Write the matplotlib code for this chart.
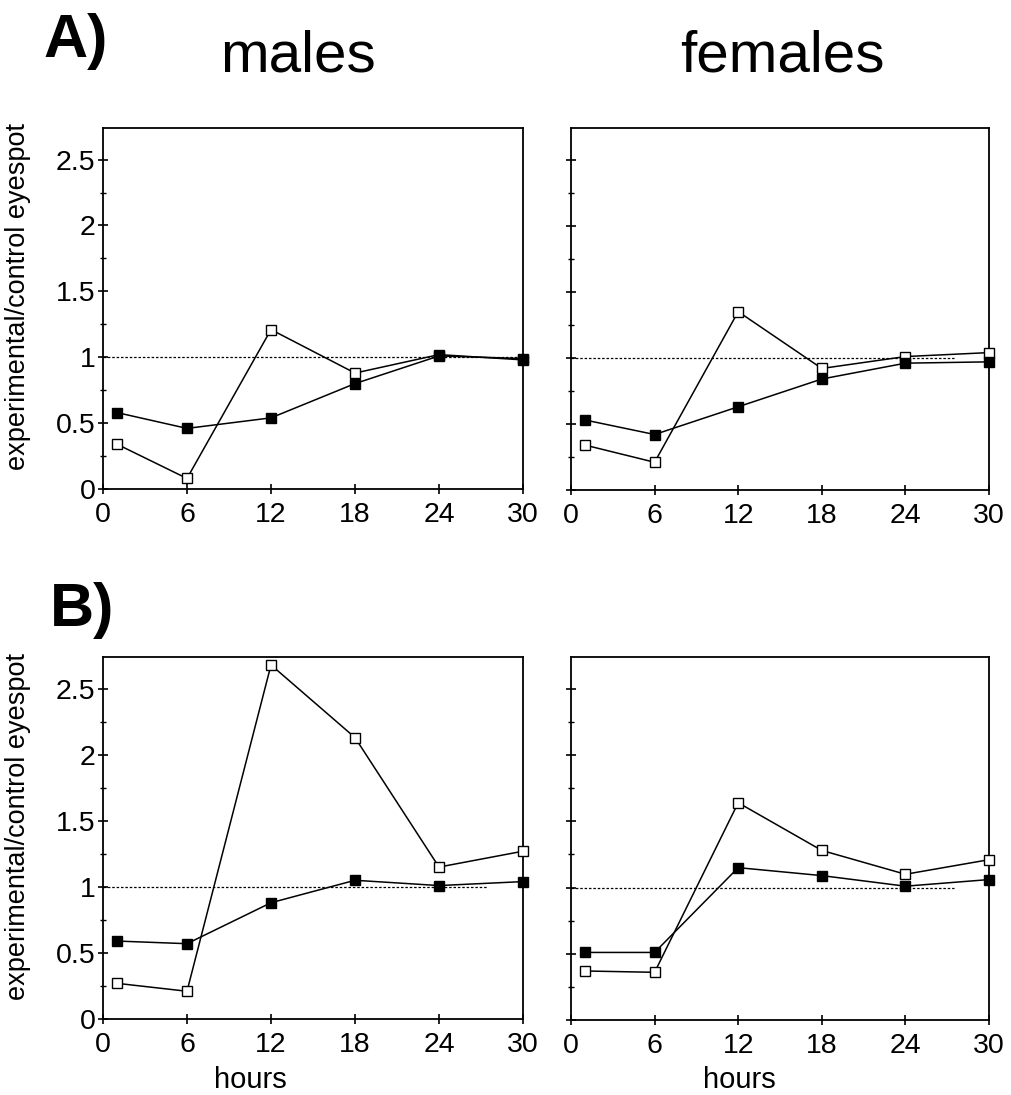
import numpy as np
import matplotlib
matplotlib.use("Agg")
import matplotlib.pyplot as plt
from matplotlib.ticker import MultipleLocator

plt.rcParams['font.family'] = ['Liberation Sans', 'DejaVu Sans']

# heures de mesure
hours = [1, 6, 12, 18, 24, 30]

# A) rapports expérimental/contrôle
a_males_filled = [0.58, 0.46, 0.54, 0.80, 1.01, 0.99]
a_males_open = [0.34, 0.08, 1.21, 0.88, 1.02, 0.98]
a_females_filled = [0.53, 0.42, 0.63, 0.84, 0.96, 0.97]
a_females_open = [0.34, 0.21, 1.35, 0.92, 1.01, 1.04]

# B)
b_males_filled = [0.59, 0.57, 0.88, 1.05, 1.01, 1.04]
b_males_open = [0.27, 0.21, 2.68, 2.13, 1.15, 1.27]
b_females_filled = [0.51, 0.51, 1.15, 1.09, 1.01, 1.06]
b_females_open = [0.37, 0.36, 1.64, 1.28, 1.10, 1.21]

x_ticks = [0, 6, 12, 18, 24, 30]
y_ticks = [0, 0.5, 1, 1.5, 2, 2.5]
y_tick_labels = ['0', '0.5', '1', '1.5', '2', '2.5']

W, H = 1012, 1095
fig = plt.figure(figsize=(W / 100, H / 100), dpi=100)


def px_axes(x0, x1, y0, y1):
    return fig.add_axes([x0 / W, 1 - y1 / H, (x1 - x0) / W, (y1 - y0) / H])


def draw_panel(ax, filled, opn, ref_end, show_labels):
    ax.plot([0, ref_end], [1, 1], color='black', lw=0.9, dashes=(2, 1.5), zorder=1)
    ax.plot(hours, opn, '-s', color='black', lw=1.1, ms=6.5,
            mfc='white', mec='black', mew=1.0, zorder=3, clip_on=False)
    ax.plot(hours, filled, '-s', color='black', lw=1.1, ms=6.5,
            mfc='black', mec='black', zorder=4, clip_on=False)
    ax.set_xlim(0, 30)
    ax.set_ylim(0, 2.74)
    ax.set_xticks(x_ticks)
    ax.set_xticklabels([str(t) for t in x_ticks])
    ax.set_yticks(y_ticks)
    ax.yaxis.set_minor_locator(MultipleLocator(0.25))
    if show_labels:
        ax.set_yticklabels(y_tick_labels)
    else:
        ax.set_yticklabels([])
    ax.tick_params(axis='both', which='major', direction='inout', length=7,
                   width=1.2, labelsize=20.5, pad=2)
    ax.tick_params(axis='y', which='minor', direction='inout', length=5, width=1.0)
    ax.tick_params(axis='x', pad=6)
    for s in ax.spines.values():
        s.set_linewidth(1.3)


ax_a1 = px_axes(103, 523, 128, 489)
ax_a2 = px_axes(571, 989, 128, 490)
ax_b1 = px_axes(103, 523, 657, 1019)
ax_b2 = px_axes(571, 989, 657, 1020)

draw_panel(ax_a1, a_males_filled, a_males_open, 30, True)
draw_panel(ax_a2, a_females_filled, a_females_open, 27.5, False)
draw_panel(ax_b1, b_males_filled, b_males_open, 27.4, True)
draw_panel(ax_b2, b_females_filled, b_females_open, 27.5, False)

# lettres de panneau et titres
fig.text(43 / W, 1 - 57 / H, 'A)', fontsize=44, fontweight='bold', ha='left', va='baseline')
fig.text(50 / W, 1 - 626 / H, 'B)', fontsize=44, fontweight='bold', ha='left', va='baseline')
fig.text(298 / W, 1 - 72 / H, 'males', fontsize=42, ha='center', va='baseline')
fig.text(782 / W, 1 - 72 / H, 'females', fontsize=42, ha='center', va='baseline')

ylab = 'experimental/control eyespot'
fig.text(18 / W, 1 - 297 / H, ylab, fontsize=19.5, rotation=90, ha='center', va='center')
fig.text(18 / W, 1 - 826 / H, ylab, fontsize=19.5, rotation=90, ha='center', va='center')

fig.text(250 / W, 1 - 1088 / H, 'hours', fontsize=21, ha='center', va='baseline')
fig.text(739 / W, 1 - 1088 / H, 'hours', fontsize=21, ha='center', va='baseline')

fig.savefig('out.png', dpi=100)
